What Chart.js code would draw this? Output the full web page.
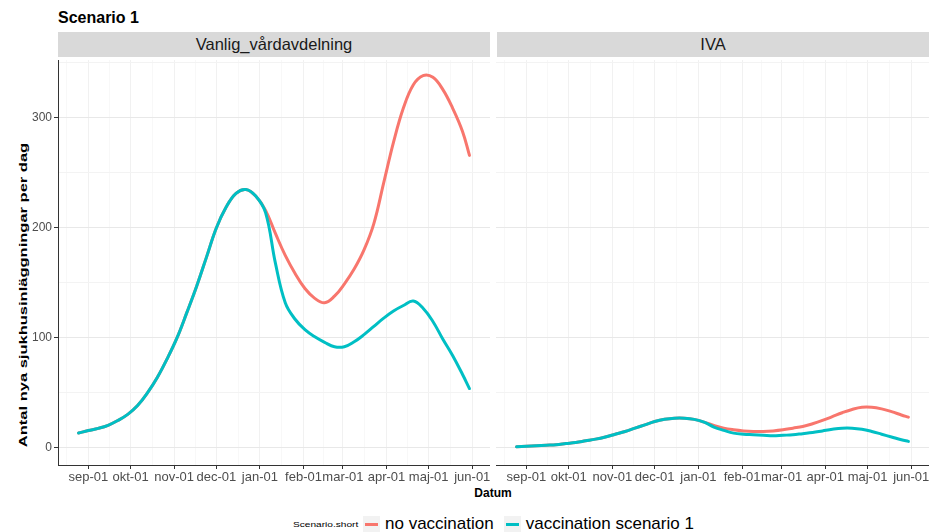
<!DOCTYPE html>
<html>
<head>
<meta charset="utf-8">
<script src="https://cdn.jsdelivr.net/npm/chart.js@4.4.1/dist/chart.umd.min.js"></script>
<style>
    body { margin: 0; background: #fff; font-family: "Liberation Sans", Arial, sans-serif; }
    #wrap { position: relative; width: 929px; height: 532px; overflow: hidden; background: #fff; }
    #title { position: absolute; left: 58px; top: 10px; font-size: 16px; line-height: 1; font-weight: bold; color: #000; }
    .strip { position: absolute; top: 32px; height: 25px; width: 432px; background: #d9d9d9; color: #1a1a1a;
             font-size: 16.5px; display: flex; align-items: center; justify-content: center; }
    #stripLeft { left: 58px; }
    #stripRight { left: 497px; }
    #yTitle { position: absolute; left: 23px; top: 295px; font-size: 11px; font-weight: bold; color: #000; white-space: nowrap;
              transform: translate(-50%, -50%) rotate(-90deg) scaleX(1.5); }
    #xTitle { position: absolute; left: 493px; top: 493px; font-size: 12px; font-weight: bold; color: #000;
              transform: translate(-50%, -50%); }
    canvas { position: absolute; top: 60px; }
    #leftChart { left: 0; }
    #rightChart { left: 496px; }
    #legend { position: absolute; left: 293px; top: 514px; height: 20px; display: flex; align-items: center; }
    #legendTitle { font-size: 7.5px; color: #000; transform: scaleX(1.35); transform-origin: left center; width: 70px; }
    .key { width: 17px; height: 17px; background: #f2f2f2; position: relative; margin-right: 5px; }
    .key span { position: absolute; left: 2px; right: 2px; top: 7px; height: 3px; }
    .keyText { font-size: 17px; color: #000; margin-right: 10px; white-space: nowrap; }
</style>
</head>
<body>
<div id="wrap">
    <div id="title">Scenario 1</div>
    <div class="strip" id="stripLeft">Vanlig_vårdavdelning</div>
    <div class="strip" id="stripRight">IVA</div>
    <div id="yTitle">Antal nya sjukhusinläggningar per dag</div>
    <div id="xTitle">Datum</div>
    <canvas id="leftChart" width="490" height="430"></canvas>
    <canvas id="rightChart" width="433" height="430"></canvas>
    <div id="legend"><span id="legendTitle">Scenario.short</span></div>
</div>
<script>
// days after 1 September
const days = [-7, 0, 7, 14, 21, 28, 35, 42, 49, 56, 63, 70, 77, 84, 91, 98, 105, 112, 119, 126,
    133, 140, 147, 154, 161, 168, 175, 182, 189, 196, 203, 210, 217, 224, 231, 238, 245, 252, 259, 266, 271];

const wardNoVac = [13.6, 15.8, 17.8, 20.6, 25, 30.5, 38.5, 50, 64, 81, 100, 123, 147, 173.5, 200, 219, 231.5, 235, 229, 216,
    195, 175, 158.6, 145, 136, 132, 138, 149, 162.6, 180, 204, 241, 278, 309, 330, 338.5, 337, 326, 309, 288, 266];
const wardVac = [13.6, 15.8, 17.8, 20.6, 25, 30.5, 38.5, 50, 64, 81, 100, 123, 147, 173.5, 200, 219, 231.5, 235, 229, 214,
    168, 132, 117, 107.5, 101, 96, 92, 92, 96.5, 103, 110.5, 118, 124.5, 129.5, 133.5, 127, 115, 99, 84, 67, 54];

const icuNoVac = [1, 1.5, 2, 2.5, 3, 4, 5, 6.5, 8, 10, 12.5, 15, 18, 21, 24, 26, 27, 27, 26, 23.5,
    20.5, 18, 16.5, 15.5, 15, 15, 15.5, 16.5, 18, 19.5, 22, 25, 28.5, 32, 35, 37, 37, 35.5, 33, 30, 28];
const icuVac = [1, 1.5, 2, 2.5, 3, 4, 5, 6.5, 8, 10, 12.5, 15, 18, 21, 24, 26, 27, 27, 26, 23.5,
    19, 16, 13.5, 12.5, 12, 11.5, 11, 11.5, 12, 13, 14, 15.5, 17, 18, 18, 17, 15, 12.5, 10, 7.5, 6];

const seriesNames = ['no vaccination', 'vaccination scenario 1'];
const seriesColors = ['#F8766D', '#00BFC4'];

const monthDays = [0, 30, 61, 91, 122, 153, 181, 212, 242, 273];
const monthLabels = ['sep-01', 'okt-01', 'nov-01', 'dec-01', 'jan-01', 'feb-01', 'mar-01', 'apr-01', 'maj-01', 'jun-01'];
const xGridDays = [-15.5, 0, 15, 30, 45.5, 61, 76, 91, 106.5, 122, 137.5, 153, 167, 181, 196.5, 212, 227, 242, 257.5, 273];

const yTickValues = [0, 100, 200, 300];
const yTickLabels = ['0', '100', '200', '300'];
const yGridValues = [0, 50, 100, 150, 200, 250, 300, 350];

Chart.defaults.font.family = '"Liberation Sans", Arial, sans-serif';

function toPoints(values) {
    return days.map((d, i) => ({ x: d, y: values[i] }));
}

function renderPanel(canvasId, noVac, vac, showY) {
    const ctx = document.getElementById(canvasId).getContext('2d');

    new Chart(ctx, {
        type: 'line',
        data: {
            datasets: [
                { label: seriesNames[0], data: toPoints(noVac), borderColor: seriesColors[0], order: 2 },
                { label: seriesNames[1], data: toPoints(vac), borderColor: seriesColors[1], order: 1 }
            ]
        },
        options: {
            responsive: false,
            animation: false,
            layout: { padding: 0 },
            elements: {
                line: { borderWidth: 3, tension: 0.4, fill: false, borderCapStyle: 'round', borderJoinStyle: 'round' },
                point: { radius: 0 }
            },
            plugins: {
                legend: { display: false },
                tooltip: { enabled: false }
            },
            scales: {
                x: {
                    type: 'linear',
                    min: -21.6,
                    max: 285.6,
                    afterBuildTicks: s => { s.ticks = xGridDays.map(v => ({ value: v })); },
                    afterFit: s => { s.height = 25; s.paddingLeft = 0; s.paddingRight = 0; },
                    ticks: {
                        autoSkip: false, maxRotation: 0, minRotation: 0, padding: 1,
                        color: '#4d4d4d', font: { size: 13 },
                        callback: v => {
                            const i = monthDays.indexOf(v);
                            return i >= 0 ? monthLabels[i] : '';
                        }
                    },
                    grid: {
                        color: c => monthDays.includes(c.tick.value) ? '#f1f1f1' : '#f8f8f8',
                        tickColor: c => monthDays.includes(c.tick.value) ? '#333' : 'rgba(0,0,0,0)',
                        tickLength: 4
                    },
                    border: { display: true, color: '#333', width: 1 }
                },
                y: {
                    type: 'linear',
                    min: -15.5,
                    max: 352.7,
                    afterBuildTicks: s => { s.ticks = yGridValues.map(v => ({ value: v })); },
                    afterFit: s => { s.width = showY ? 58 : 0; s.paddingTop = 0; s.paddingBottom = 0; },
                    ticks: {
                        display: showY, padding: 2, color: '#4d4d4d', font: { size: 12 },
                        callback: v => {
                            const i = yTickValues.indexOf(v);
                            return i >= 0 ? yTickLabels[i] : '';
                        }
                    },
                    grid: {
                        color: c => yTickValues.includes(c.tick.value) ? '#e8e8e8' : '#f3f3f3',
                        tickColor: c => yTickValues.includes(c.tick.value) ? '#333' : 'rgba(0,0,0,0)',
                        tickLength: 4,
                        drawTicks: showY
                    },
                    border: { display: showY, color: '#333', width: 1 }
                }
            }
        }
    });
}

function renderLegend() {
    const legend = document.getElementById('legend');
    seriesNames.forEach((name, i) => {
        const key = document.createElement('div');
        key.className = 'key';
        const line = document.createElement('span');
        line.style.background = seriesColors[i];
        key.appendChild(line);
        const text = document.createElement('div');
        text.className = 'keyText';
        text.textContent = name;
        legend.appendChild(key);
        legend.appendChild(text);
    });
}

renderPanel('leftChart', wardNoVac, wardVac, true);
renderPanel('rightChart', icuNoVac, icuVac, false);
renderLegend();
</script>
</body>
</html>
